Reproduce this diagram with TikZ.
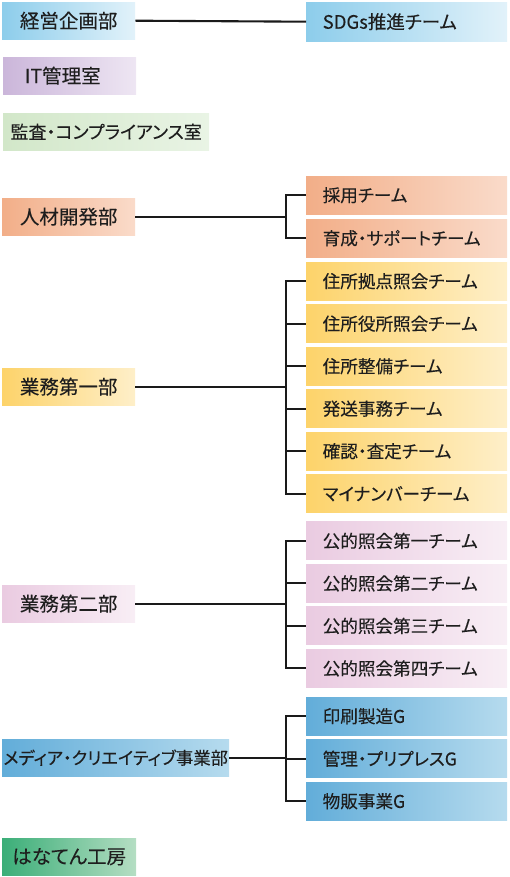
\documentclass[tikz,border=0pt]{standalone}
\usepackage{fontspec}
\setmainfont{Noto Sans CJK JP}[RawFeature={+palt}, FakeBold=0.15]
\definecolor{txt}{HTML}{1E1E1E}
\definecolor{lnc}{HTML}{1A1A1A}
\definecolor{bluA}{HTML}{8DCDEB}\definecolor{bluB}{HTML}{E2F2FA}
\definecolor{purA}{HTML}{CBB6DA}\definecolor{purB}{HTML}{EEE6F3}
\definecolor{grlA}{HTML}{D2E7C9}\definecolor{grlB}{HTML}{E9F4E5}
\definecolor{ornA}{HTML}{F2AE88}\definecolor{ornB}{HTML}{FADBCA}
\definecolor{yelA}{HTML}{FDD36A}\definecolor{yelB}{HTML}{FEEFC9}
\definecolor{pnkA}{HTML}{EACBE1}\definecolor{pnkB}{HTML}{F8EEF5}
\definecolor{mblA}{HTML}{62ADD9}\definecolor{mblB}{HTML}{B6DBEE}
\definecolor{grnA}{HTML}{3BAE78}\definecolor{grnB}{HTML}{B5DEC3}
\tikzset{
  box/.style={anchor=north west, inner sep=0pt, text=txt},
  dept/.style={box, minimum height=37pt, align=center,
    font=\fontsize{19.5}{21}\selectfont},
  team/.style={box, minimum height=38pt, minimum width=201pt,
    text width=168pt, inner xsep=16.5pt, align=left,
    font=\fontsize{17.6}{20}\selectfont},
  shd/.style 2 args={left color=#1, right color=#2},
  conn/.style={draw=lnc, line width=2.1pt},
}
\begin{document}
\begin{tikzpicture}[x=1pt,y=-1pt]
\useasboundingbox (0,0) rectangle (509,877);
% departments
\node[dept, minimum width=133pt, shd={bluA}{bluB}] (kei) at (2,2) {経営企画部};
\node[dept, minimum width=133pt, shd={purA}{purB}] (it) at (3,57) {IT管理室\hspace*{14pt}};
\node[dept, minimum width=206pt, shd={grlA}{grlB}, font=\fontsize{18}{20}\selectfont] (kan) at (3,113) {監査・コンプライアンス室};
\node[dept, minimum width=133pt, shd={ornA}{ornB}] (jin) at (2,198) {人材開発部};
\node[dept, minimum width=133pt, shd={yelA}{yelB}] (gy1) at (2,368) {業務第一部};
\node[dept, minimum width=133pt, shd={pnkA}{pnkB}] (gy2) at (2,585) {業務第二部};
\node[dept, minimum width=227pt, shd={mblA}{mblB}, font=\fontsize{17.3}{20}\selectfont] (med) at (2,739) {メディア・クリエイティブ事業部};
\node[dept, minimum width=134pt, shd={grnA}{grnB}] (han) at (2,838) {はなてん工房};
% teams
\node[team, minimum height=39pt, shd={bluA}{bluB}, font=\fontsize{18.5}{20}\selectfont] (sdg) at (306,2) {SDGs推進チーム};
\node[team, shd={ornA}{ornB}] (j1) at (306,176) {採用チーム};
\node[team, shd={ornA}{ornB}] (j2) at (306,219) {育成・サポートチーム};
\node[team, shd={yelA}{yelB}] (a1) at (306,262) {住所拠点照会チーム};
\node[team, shd={yelA}{yelB}] (a2) at (306,304.5) {住所役所照会チーム};
\node[team, shd={yelA}{yelB}] (a3) at (306,347) {住所整備チーム};
\node[team, shd={yelA}{yelB}] (a4) at (306,389.5) {発送事務チーム};
\node[team, shd={yelA}{yelB}] (a5) at (306,432) {確認・査定チーム};
\node[team, shd={yelA}{yelB}] (a6) at (306,474.5) {マイナンバーチーム};
\node[team, shd={pnkA}{pnkB}] (b1) at (306,521.7) {公的照会第一チーム};
\node[team, shd={pnkA}{pnkB}] (b2) at (306,564.2) {公的照会第二チーム};
\node[team, shd={pnkA}{pnkB}] (b3) at (306,606.7) {公的照会第三チーム};
\node[team, shd={pnkA}{pnkB}] (b4) at (306,649.2) {公的照会第四チーム};
\node[team, shd={mblA}{mblB}] (c1) at (306,697) {印刷製造G};
\node[team, shd={mblA}{mblB}] (c2) at (306,739.5) {管理・プリプレスG};
\node[team, shd={mblA}{mblB}] (c3) at (306,782) {物販事業G};
% bracket points
\coordinate (kj) at (jin.east -| 286,0);
\coordinate (k1) at (gy1.east -| 286,0);
\coordinate (k2) at (gy2.east -| 286,0);
\coordinate (km) at (med.east -| 286,0);
% connectors
\draw[conn] (kei.east) -- (sdg.west);
\draw[conn] (jin.east) -- (kj);
\foreach \t in {j1,j2} \draw[conn] (kj) |- (\t.west);
\draw[conn] (gy1.east) -- (k1);
\foreach \t in {a1,a2,a3,a4,a5,a6} \draw[conn] (k1) |- (\t.west);
\draw[conn] (gy2.east) -- (k2);
\foreach \t in {b1,b2,b3,b4} \draw[conn] (k2) |- (\t.west);
\draw[conn] (med.east) -- (km);
\foreach \t in {c1,c2,c3} \draw[conn] (km) |- (\t.west);
\end{tikzpicture}
\end{document}
